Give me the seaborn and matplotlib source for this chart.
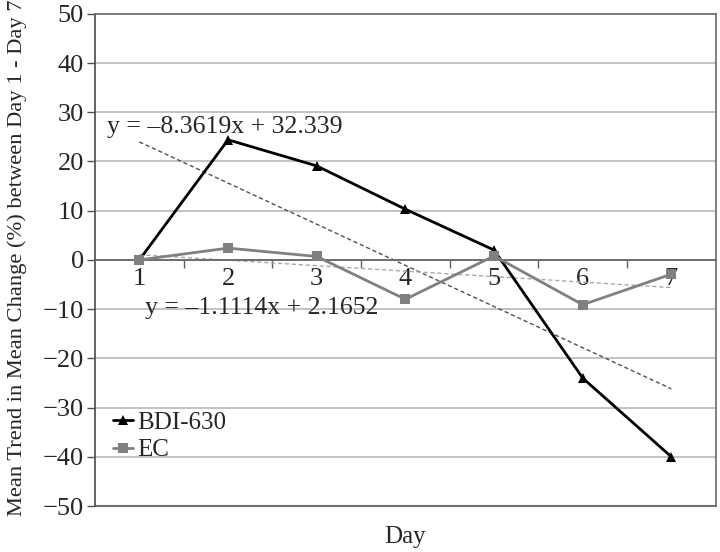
import numpy as np
import pandas as pd
import matplotlib
matplotlib.use("Agg")
import matplotlib.pyplot as plt
import seaborn as sns
from matplotlib.ticker import FixedLocator, NullFormatter

# dados
days = [1, 2, 3, 4, 5, 6, 7]
bdi_630 = [0.0, 24.4, 19.1, 10.3, 2.0, -24.0, -40.0]
ec = [0.0, 2.4, 0.7, -8.0, 0.8, -9.1, -2.9]

# coeficientes das linhas de tendência (como no gráfico)
bdi_trend = (-8.3619, 32.339)
ec_trend = (-1.1114, 2.1652)

df = pd.DataFrame({
    "Day": days * 2,
    "value": bdi_630 + ec,
    "group": ["BDI-630"] * len(days) + ["EC"] * len(days),
})

sns.set_theme(style="white")
plt.rcParams["font.family"] = ["Liberation Serif", "DejaVu Serif"]

fig = plt.figure(figsize=(7.2, 5.52), dpi=100)
ax = fig.add_axes([0.132, 0.0833, 0.862, 0.8917])

# linhas de tendência
xd = np.array([days[0], days[-1]])
ax.plot(xd, bdi_trend[0] * xd + bdi_trend[1], color="#505050", lw=1.0,
        ls=(0, (3, 2)), zorder=2)
ax.plot(xd, ec_trend[0] * xd + ec_trend[1], color="#a8a8a8", lw=1.0,
        ls=(0, (3, 2)), zorder=2)

sns.lineplot(data=df, x="Day", y="value", hue="group", style="group",
             palette={"BDI-630": "black", "EC": "#808080"},
             markers={"BDI-630": "^", "EC": "s"}, dashes=False,
             markersize=7, linewidth=2, markeredgewidth=0, ax=ax, zorder=3)

ax.set_xlim(0.5, 7.5)
ax.set_ylim(-50, 50)
ax.set_yticks(range(-50, 51, 10))
ax.grid(axis="y", color="#b8b8b8", lw=1.2)
ax.set_axisbelow(True)

# eixo x cruza em zero
ax.spines["bottom"].set_position(("data", 0))
ax.spines["bottom"].set_color("#606060")
ax.spines["bottom"].set_linewidth(1.2)
for s in ["top", "right"]:
    ax.spines[s].set_color("#707070")
ax.spines["left"].set_color("#505050")
ax.axhline(-50, color="#707070", lw=1.5, clip_on=False)

ax.xaxis.set_major_locator(FixedLocator([1.5, 2.5, 3.5, 4.5, 5.5, 6.5]))
ax.xaxis.set_major_formatter(NullFormatter())
ax.xaxis.set_minor_locator(FixedLocator(days))
ax.set_xticklabels([str(d) for d in days], minor=True)
ax.tick_params(axis="x", which="major", direction="out", length=6,
               width=1, color="#606060", bottom=True)
ax.tick_params(axis="x", which="minor", length=0, pad=6, labelsize=19)
ax.tick_params(axis="y", direction="out", length=6, width=1,
               color="#505050", left=True, labelsize=19, pad=2)

ax.text(0.64, 27, f"y = \u2013{abs(bdi_trend[0])}x + {bdi_trend[1]}",
        fontsize=18.5, va="center", ha="left")
ax.text(1.06, -9.8, f"y = \u2013{abs(ec_trend[0])}x + {ec_trend[1]}",
        fontsize=18.5, va="center", ha="left")

ax.set_xlabel("Day", fontsize=18)
ax.xaxis.set_label_coords(0.5, -0.04)
ax.set_ylabel("Mean Trend in Mean Change (%) between Day 1 - Day 7", fontsize=16.2)
ax.yaxis.set_label_coords(-0.11, 0.505)

leg = ax.legend(loc="lower left", bbox_to_anchor=(0.0, 0.055), frameon=False,
                fontsize=18, handlelength=0.8, handletextpad=0.2,
                labelspacing=0.2, borderaxespad=0.3)

fig.savefig("out.png", dpi=100)
